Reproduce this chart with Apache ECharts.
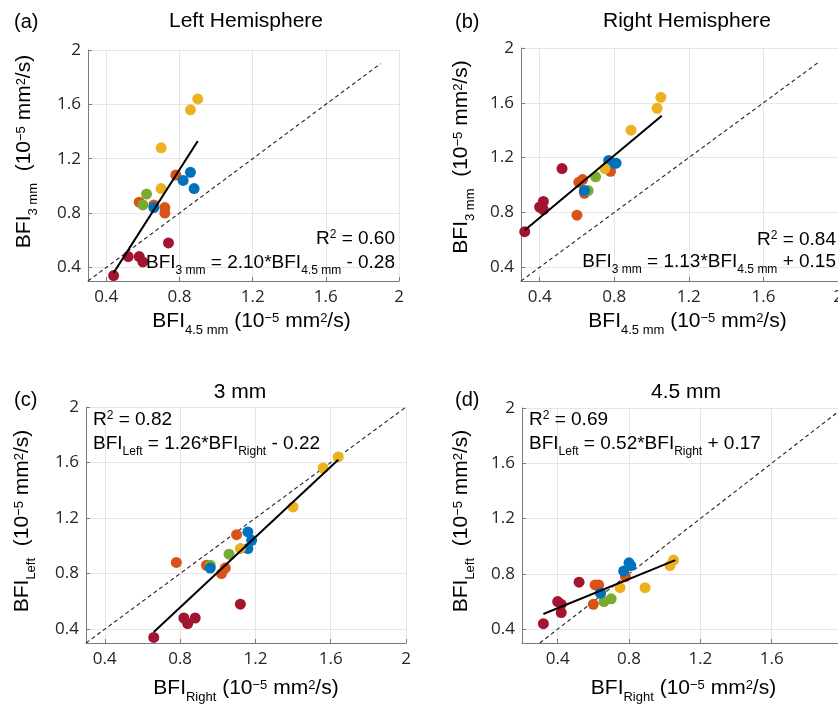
<!DOCTYPE html>
<html><head><meta charset="utf-8">
<script src="https://cdn.jsdelivr.net/npm/echarts@6/dist/echarts.min.js"></script>
<style>html,body{margin:0;padding:0;background:#fff}#c{width:838px;height:704px}</style>
</head><body><div id="c"></div>
<script>
// ---- data (units: 1e-5 mm^2/s) ----
// each group: values per point for Left 4.5 mm, Left 3 mm, Right 4.5 mm, Right 3 mm
const groupNames = ['Dark red', 'Orange', 'Green', 'Blue', 'Yellow'];
const groupColors = ['#A2142F', '#D95319', '#77AC30', '#0072BD', '#EDB120'];

const darkredL45 = [0.74, 0.52, 0.58, 0.60, 0.44];
const darkredL3  = [0.58, 0.48, 0.48, 0.44, 0.34];
const darkredR45 = [0.52, 0.42, 0.42, 0.40, 0.32];
const darkredR3  = [1.12, 0.88, 0.82, 0.84, 0.66];

const orangeL45 = [0.78, 0.58, 0.66, 0.72, 0.72];
const orangeL3  = [1.08, 0.88, 0.86, 0.84, 0.80];
const orangeR45 = [0.78, 0.60, 0.64, 0.63, 0.61];
const orangeR3  = [1.10, 0.78, 0.94, 1.04, 1.02];

const greenL45 = [0.62, 0.60];
const greenL3  = [0.94, 0.86];
const greenR45 = [0.70, 0.66];
const greenR3  = [1.06, 0.96];

const blueL45 = [0.86, 0.82, 0.88, 0.66];
const blueL3  = [1.10, 1.04, 0.98, 0.84];
const blueR45 = [0.81, 0.77, 0.80, 0.64];
const blueR3  = [1.16, 1.18, 1.16, 0.96];

const yellowL45 = [0.90, 0.86, 0.70, 0.70];
const yellowL3  = [1.64, 1.56, 1.28, 0.98];
const yellowR45 = [1.05, 1.03, 0.89, 0.75];
const yellowR3  = [1.64, 1.56, 1.40, 1.12];

// fitted regression lines (end points) and identity lines
const fitA = [[0.44, 0.36], [0.90, 1.33]];
const fitB = [[0.32, 0.67], [1.055, 1.505]];
const fitC = [[0.66, 0.38], [1.64, 1.62]];
const fitD = [[0.32, 0.51], [1.06, 0.90]];
const diagA = [[0.3, 0.3], [1.9, 1.9]];
const diagB = [[0.3, 0.3], [1.9, 1.9]];
const diagC = [[0.3, 0.3], [2.0, 2.0]];
const diagD = [[0.3, 0.3], [2.0, 2.0]];

const tickValues = [0.4, 0.8, 1.2, 1.6, 2.0];
const xMins = [0.3, 0.3, 0.3, 0.2];
const yMins = [0.3, 0.3, 0.3, 0.3];

const panelLabels = ['(a)', '(b)', '(c)', '(d)'];
const panelTitles = ['Left Hemisphere', 'Right Hemisphere', '3 mm', '4.5 mm'];
const r2Texts = ['0.60', '0.84', '0.82', '0.69'];

// ---- build ----
const G = {
  darkred: [darkredL45, darkredL3, darkredR45, darkredR3],
  orange: [orangeL45, orangeL3, orangeR45, orangeR3],
  green: [greenL45, greenL3, greenR45, greenR3],
  blue: [blueL45, blueL3, blueR45, blueR3],
  yellow: [yellowL45, yellowL3, yellowR45, yellowR3]
};
const gKeys = ['darkred', 'orange', 'green', 'blue', 'yellow'];
// panel -> [x index, y index] into [L45, L3, R45, R3]
const panelXY = [[0, 1], [2, 3], [3, 1], [2, 0]];
const fits = [fitA, fitB, fitC, fitD];
const diags = [diagA, diagB, diagC, diagD];

const F = "'Liberation Sans', Arial, Helvetica, sans-serif";
const T = "'Open Sans', 'Liberation Sans', sans-serif";

const nameRich = {
  m: {fontSize: 21, fontFamily: F, color: '#000'},
  s: {fontSize: 13, fontFamily: F, color: '#000', padding: [18, 0, 0, 0]},
  p: {fontSize: 13, fontFamily: F, color: '#000', padding: [0, 0, 6, 0]}
};
const eqRich = {
  m: {fontSize: 19, fontFamily: F, color: '#000'},
  s: {fontSize: 12, fontFamily: F, color: '#000', padding: [16, 0, 0, 0]},
  p: {fontSize: 12, fontFamily: F, color: '#000', padding: [0, 0, 8, 0]}
};
const unit = '{m| (10}{p|\u22125}{m| mm}{p|2}{m|/s)}';
const xNames = [
  '{m|BFI}{s|4.5 mm}' + unit,
  '{m|BFI}{s|4.5 mm}' + unit,
  '{m|BFI}{s|Right}' + unit,
  '{m|BFI}{s|Right}' + unit
];
const yNames = [
  '{m|BFI}{s|3 mm}{m| }' + unit,
  '{m|BFI}{s|3 mm}{m| }' + unit,
  '{m|BFI}{s|Left}{m| }' + unit,
  '{m|BFI}{s|Left}{m| }' + unit
];
const eqTexts = [
  '{m|BFI}{s|3 mm}{m| = 2.10*BFI}{s|4.5 mm}{m| - 0.28}',
  '{m|BFI}{s|3 mm}{m| = 1.13*BFI}{s|4.5 mm}{m| + 0.15}',
  '{m|BFI}{s|Left}{m| = 1.26*BFI}{s|Right}{m| - 0.22}',
  '{m|BFI}{s|Left}{m| = 0.52*BFI}{s|Right}{m| + 0.17}'
];

const gridBase = {containLabel: false, outerBoundsMode: 'none'};
const grids = [
  Object.assign({left: 88, top: 50, width: 311, height: 231}, gridBase),
  Object.assign({left: 521, top: 48, width: 317, height: 233}, gridBase),
  Object.assign({left: 86, top: 407, width: 320, height: 236}, gridBase),
  Object.assign({left: 522, top: 408, width: 321, height: 235}, gridBase)
];
const xNameGap = [25, 25, 30, 30];
const xNamePad = [[0, 0, 0, 16], [0, 0, 0, 16], [0, 0, 0, 0], [0, 0, 0, 2]];
const yNameGap = [48, 44, 48, 45];
const yNamePad = [[0, 0, 0, 28], [0, 0, 0, 15], [0, 0, 0, 8], [0, 0, 0, 9]];

const fmt = v => String(+(+v).toFixed(1));
const axisCommon = {
  type: 'value', max: 2,
  axisLine: {show: true, onZero: false, lineStyle: {color: '#7a7a7a', width: 1}},
  axisTick: {show: true, inside: true, length: 4, customValues: tickValues, lineStyle: {color: '#7a7a7a'}},
  splitLine: {show: true, lineStyle: {color: '#e6e6e6', width: 1}},
  nameLocation: 'middle'
};

const xAxis = [], yAxis = [], series = [];
for (let p = 0; p < 4; p++) {
  xAxis.push(Object.assign({}, axisCommon, {
    gridIndex: p, min: xMins[p],
    axisLabel: {customValues: tickValues, formatter: fmt, fontFamily: T, fontSize: 17, color: '#262626', margin: 8,
                hideOverlap: false, showMaxLabel: true, showMinLabel: true},
    name: xNames[p], nameGap: xNameGap[p],
    nameTextStyle: {rich: nameRich, padding: xNamePad[p], fontFamily: F, fontSize: 21, color: '#000'}
  }));
  yAxis.push(Object.assign({}, axisCommon, {
    gridIndex: p, min: yMins[p],
    axisLabel: {customValues: tickValues, formatter: fmt, fontFamily: T, fontSize: 17, color: '#262626', margin: 7,
                hideOverlap: false, showMaxLabel: true, showMinLabel: true},
    name: yNames[p], nameGap: yNameGap[p],
    nameTextStyle: {rich: nameRich, padding: yNamePad[p], fontFamily: F, fontSize: 21, color: '#000'}
  }));
  series.push({
    type: 'line', xAxisIndex: p, yAxisIndex: p, data: diags[p], symbol: 'none', silent: true, z: 1,
    lineStyle: {color: '#222', width: 1.1, type: [4, 3]}
  });
  gKeys.forEach((k, gi) => {
    const xs = G[k][panelXY[p][0]], ys = G[k][panelXY[p][1]];
    series.push({
      type: 'scatter', name: groupNames[gi], xAxisIndex: p, yAxisIndex: p,
      data: xs.map((x, i) => [x, ys[i]]), symbolSize: 11, z: 3,
      itemStyle: {color: groupColors[gi], opacity: 1}
    });
  });
  series.push({
    type: 'line', xAxisIndex: p, yAxisIndex: p, data: fits[p], symbol: 'none', silent: true, z: 5,
    lineStyle: {color: '#000', width: 2}
  });
}

function txt(x, y, text, rich, align) {
  return {
    type: 'text', x: x, y: y, z: 10,
    style: {
      text: text, rich: rich, align: align, textAlign: align,
      verticalAlign: 'middle', textVerticalAlign: 'middle',
      fontFamily: F, fontSize: 20, fill: '#000'
    }
  };
}
const titleRich = {t: {fontSize: 21, fontFamily: F, color: '#000'}};
const labelRich = {t: {fontSize: 20, fontFamily: F, color: '#000'}};
const labelPos = [[14, 22], [455, 22], [14, 400], [455, 400]];
const titlePos = [[246, 21], [687, 21], [240, 392], [686, 392]];
const r2Pos = [[395, 239, 'right'], [836, 240, 'right'], [93, 420, 'left'], [529, 420, 'left']];
const eqPos = [[395, 263, 'right'], [836, 262, 'right'], [93, 444, 'left'], [529, 444, 'left']];
const graphic = [];
for (let p = 0; p < 4; p++) {
  graphic.push(txt(labelPos[p][0], labelPos[p][1], '{t|' + panelLabels[p] + '}', labelRich, 'left'));
  graphic.push(txt(titlePos[p][0], titlePos[p][1], '{t|' + panelTitles[p] + '}', titleRich, 'center'));
  graphic.push(txt(r2Pos[p][0], r2Pos[p][1], '{m|R}{p|2}{m| = ' + r2Texts[p] + '}', eqRich, r2Pos[p][2]));
  graphic.push(txt(eqPos[p][0], eqPos[p][1], eqTexts[p], eqRich, eqPos[p][2]));
}

const chart = echarts.init(document.getElementById('c'), null, {renderer: 'canvas'});
chart.setOption({
  backgroundColor: '#fff',
  animation: false,
  grid: grids,
  xAxis: xAxis,
  yAxis: yAxis,
  series: series,
  graphic: graphic
});
</script>
</body></html>
